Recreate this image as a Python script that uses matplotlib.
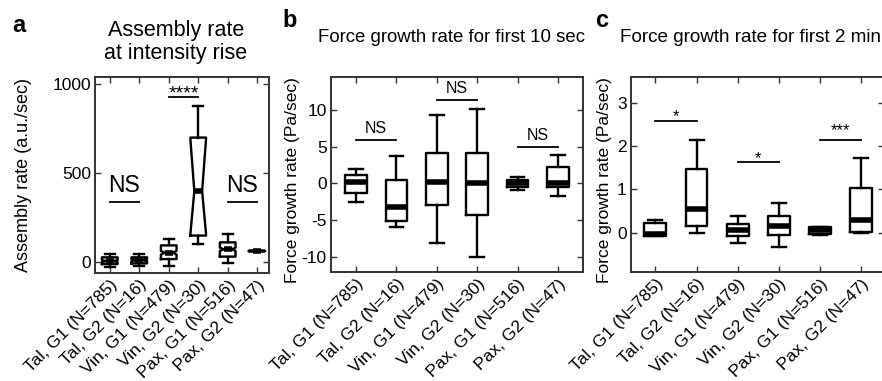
import matplotlib
matplotlib.use("Agg")
import matplotlib.pyplot as plt

plt.rcParams['font.family'] = ['Liberation Sans', 'DejaVu Sans']
plt.rcParams['axes.unicode_minus'] = False

labels = ["Tal, G1 (N=785)", "Tal, G2 (N=16)", "Vin, G1 (N=479)",
          "Vin, G2 (N=30)", "Pax, G1 (N=516)", "Pax, G2 (N=47)"]

# Panel a: assembly rate (a.u./sec)
a_whislo = [-25, -20, -19, 105, -6, 63]
a_q1     = [-10, -6, 18, 150, 32, 63]
a_med    = [7, 12, 54, 400, 73, 63]
a_q3     = [28, 28, 95, 700, 112, 63]
a_whishi = [45, 46, 131, 875, 159, 63]
a_cilo   = [2, 6, 44, 160, 64, 63]
a_cihi   = [12, 18, 64, 690, 82, 63]

# Panel b: force growth rate, first 10 sec (Pa/sec)
b_whislo = [-2.6, -5.9, -8.2, -10.0, -0.9, -1.8]
b_q1     = [-1.3, -5.2, -2.95, -4.3, -0.45, -0.45]
b_med    = [0.15, -3.2, 0.2, 0.1, 0.0, 0.0]
b_q3     = [1.1, 0.45, 4.1, 4.2, 0.4, 2.2]
b_whishi = [1.95, 3.7, 9.3, 10.1, 0.9, 3.8]

# Panel c: force growth rate, first 2 min (Pa/sec)
c_whislo = [-0.09, 0.0, -0.25, -0.34, -0.06, 0.0]
c_q1     = [-0.08, 0.15, -0.09, -0.05, -0.04, 0.02]
c_med    = [-0.03, 0.55, 0.06, 0.15, 0.05, 0.28]
c_q3     = [0.215, 1.47, 0.2, 0.39, 0.12, 1.02]
c_whishi = [0.28, 2.14, 0.39, 0.68, 0.14, 1.72]

# significance annotations: (pos1, pos2, line y, text, text baseline y)
a_sig = [(1, 2, 338, "NS", 365), (3, 4, 930, "****", 918), (5, 6, 338, "NS", 365)]
b_sig = [(1, 2, 5.9, "NS", 6.4), (3, 4, 11.4, "NS", 11.9), (5, 6, 5.0, "NS", 5.5)]
c_sig = [(1, 2, 2.58, "*", 2.57), (3, 4, 1.62, "*", 1.61), (5, 6, 2.14, "***", 2.24)]

W, H = 882, 381
fig = plt.figure(figsize=(W / 100, H / 100), dpi=100)


def ax_at(l, r, t, b):
    return fig.add_axes([l / W, (H - b) / H, (r - l) / W, (b - t) / H])


spine_col = '#333333'


def make_stats(whislo, q1, med, q3, whishi, cilo=None, cihi=None):
    out = []
    for i in range(len(med)):
        d = dict(whislo=whislo[i], q1=q1[i], med=med[i], q3=q3[i],
                 whishi=whishi[i], fliers=[])
        if cilo is not None:
            d['cilo'] = cilo[i]
            d['cihi'] = cihi[i]
        out.append(d)
    return out


def draw(ax, stats, notch, ylim, yticks, xlim):
    pos = list(range(1, 7))
    ax.bxp(stats, positions=pos, widths=0.53, shownotches=notch,
           showfliers=False, capwidths=0.34,
           boxprops=dict(color='black', linewidth=1.7),
           whiskerprops=dict(color='black', linewidth=1.7, linestyle='-'),
           capprops=dict(color='black', linewidth=1.7),
           medianprops=dict(color='black', linewidth=4.0, solid_capstyle='butt'))
    ax.set_ylim(*ylim)
    ax.set_xlim(*xlim)
    ax.set_yticks(yticks)
    ax.set_xticks(pos)
    ax.set_xticklabels(labels, rotation=45, ha='right', va='top',
                       rotation_mode='anchor', fontsize=12.5)
    ax.tick_params(direction='in', top=True, right=True, length=4,
                   width=1.0, color=spine_col, labelsize=12.5, pad=3)
    for s in ax.spines.values():
        s.set_color(spine_col)
        s.set_linewidth(1.4)


def add_sig(ax, sig, fs_ns, fs_star):
    for (p1, p2, ly, txt, ty) in sig:
        ax.plot([p1, p2], [ly, ly], color='black', linewidth=1.3)
        if txt == "NS":
            ax.text((p1 + p2) / 2, ty, txt, ha='center', va='bottom', fontsize=fs_ns)
        else:
            ax.text((p1 + p2) / 2, ty, txt, ha='center', va='baseline', fontsize=fs_star)


ax_a = ax_at(95, 269, 77, 273)
draw(ax_a, make_stats(a_whislo, a_q1, a_med, a_q3, a_whishi, a_cilo, a_cihi),
     True, (-60, 1040), [0, 500, 1000], (0.5, 6.4))
add_sig(ax_a, a_sig, 16.5, 14)
ax_a.set_ylabel("Assembly rate (a.u./sec)", fontsize=13)
ax_a.yaxis.set_label_coords(-0.36, 0.5)

ax_b = ax_at(331, 583, 77, 272)
draw(ax_b, make_stats(b_whislo, b_q1, b_med, b_q3, b_whishi),
     False, (-12.1, 14.5), [-10, -5, 0, 5, 10], (0.38, 6.62))
add_sig(ax_b, b_sig, 11.5, 12)
ax_b.set_ylabel("Force growth rate (Pa/sec)", fontsize=12.5)
ax_b.yaxis.set_label_coords(-0.125, 0.47)

ax_c = ax_at(631, 884, 77, 272)
draw(ax_c, make_stats(c_whislo, c_q1, c_med, c_q3, c_whishi),
     False, (-0.91, 3.59), [0, 1, 2, 3], (0.41, 6.55))
add_sig(ax_c, c_sig, 11.5, 12)
ax_c.set_ylabel("Force growth rate (Pa/sec)", fontsize=12.5)
ax_c.yaxis.set_label_coords(-0.075, 0.47)


def ftext(x, y, s, **kw):
    fig.text(x / W, (H - y) / H, s, **kw)


ftext(176, 42, "Assembly rate\nat intensity rise", ha='center', va='center',
      fontsize=15.5, linespacing=1.15)
ftext(451, 38, "Force growth rate for first 10 sec", ha='center', va='center', fontsize=13.4)
ftext(751, 38, "Force growth rate for first 2 min", ha='center', va='center', fontsize=13.6)
ftext(12, 32, "a", fontsize=17, fontweight='bold', ha='left', va='baseline')
ftext(282, 27, "b", fontsize=17, fontweight='bold', ha='left', va='baseline')
ftext(595, 27, "c", fontsize=17, fontweight='bold', ha='left', va='baseline')

fig.savefig("out.png", dpi=100)
